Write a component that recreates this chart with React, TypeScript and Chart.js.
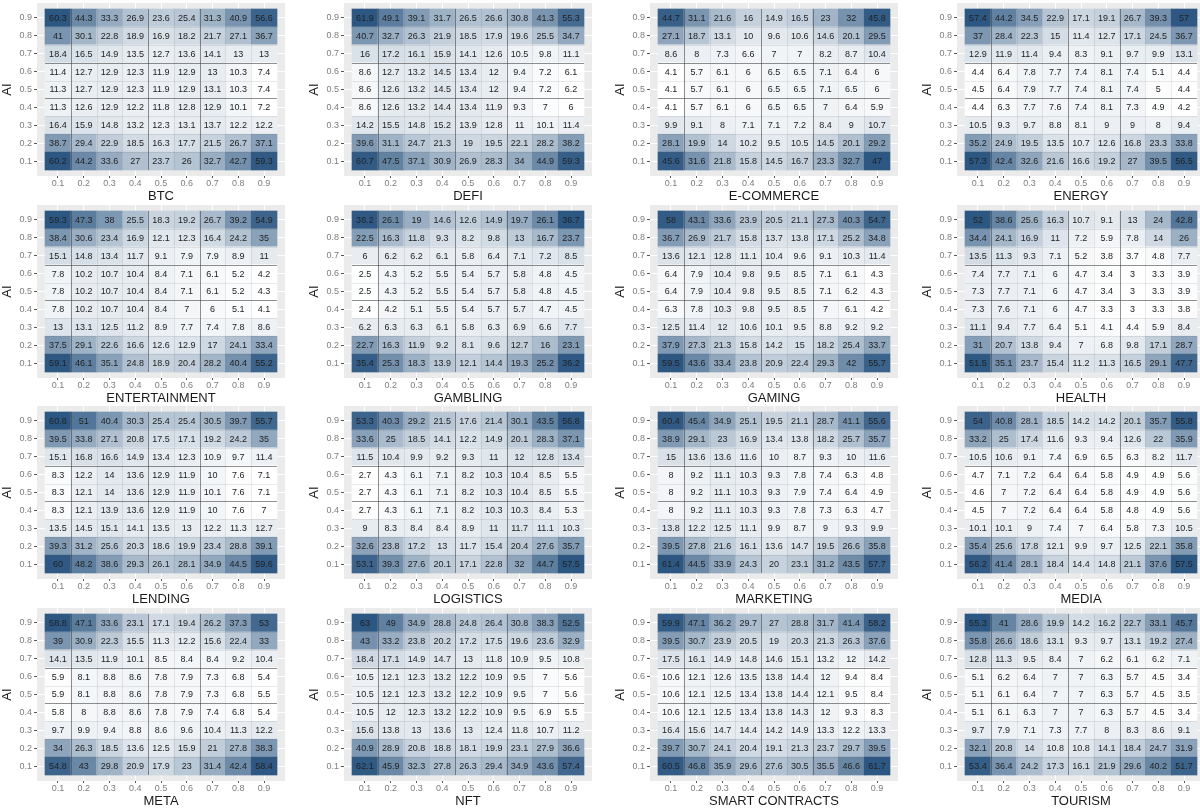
import React, { useEffect, useRef } from "react";
import { Chart, registerables } from "chart.js";

Chart.register(...registerables);
Chart.defaults.font.family = "'Liberation Sans', Arial, sans-serif";

// Axis levels (both axes) and their tick labels
const levels = [0.1, 0.2, 0.3, 0.4, 0.5, 0.6, 0.7, 0.8, 0.9];
const tickLabels = ["0.1", "0.2", "0.3", "0.4", "0.5", "0.6", "0.7", "0.8", "0.9"];
const yAxisTitle = "AI";

const panelTitles = [
  "BTC", "DEFI", "E-COMMERCE", "ENERGY",
  "ENTERTAINMENT", "GAMBLING", "GAMING", "HEALTH",
  "LENDING", "LOGISTICS", "MARKETING", "MEDIA",
  "META", "NFT", "SMART CONTRACTS", "TOURISM",
];

// Each array: rows from AI = 0.9 (top) to AI = 0.1 (bottom); columns x = 0.1 .. 0.9
const btc = [
  [60.3, 44.3, 33.3, 26.9, 23.6, 25.4, 31.3, 40.9, 56.6],
  [41, 30.1, 22.8, 18.9, 16.9, 18.2, 21.7, 27.1, 36.7],
  [18.4, 16.5, 14.9, 13.5, 12.7, 13.6, 14.1, 13, 13],
  [11.4, 12.7, 12.9, 12.3, 11.9, 12.9, 13, 10.3, 7.4],
  [11.3, 12.7, 12.9, 12.3, 11.9, 12.9, 13.1, 10.3, 7.4],
  [11.3, 12.6, 12.9, 12.2, 11.8, 12.8, 12.9, 10.1, 7.2],
  [16.4, 15.9, 14.8, 13.2, 12.3, 13.1, 13.7, 12.2, 12.2],
  [38.7, 29.4, 22.9, 18.5, 16.3, 17.7, 21.5, 26.7, 37.1],
  [60.2, 44.2, 33.6, 27, 23.7, 26, 32.7, 42.7, 59.3],
];
const defi = [
  [61.9, 49.1, 39.1, 31.7, 26.5, 26.6, 30.8, 41.3, 55.3],
  [40.7, 32.7, 26.3, 21.9, 18.5, 17.9, 19.6, 25.5, 34.7],
  [16, 17.2, 16.1, 15.9, 14.1, 12.6, 10.5, 9.8, 11.1],
  [8.6, 12.7, 13.2, 14.5, 13.4, 12, 9.4, 7.2, 6.1],
  [8.6, 12.6, 13.2, 14.5, 13.4, 12, 9.4, 7.2, 6.2],
  [8.6, 12.6, 13.2, 14.4, 13.4, 11.9, 9.3, 7, 6],
  [14.2, 15.5, 14.8, 15.2, 13.9, 12.8, 11, 10.1, 11.4],
  [39.6, 31.1, 24.7, 21.3, 19, 19.5, 22.1, 28.2, 38.2],
  [60.7, 47.5, 37.1, 30.9, 26.9, 28.3, 34, 44.9, 59.3],
];
const ecommerce = [
  [44.7, 31.1, 21.6, 16, 14.9, 16.5, 23, 32, 45.8],
  [27.1, 18.7, 13.1, 10, 9.6, 10.6, 14.6, 20.1, 29.5],
  [8.6, 8, 7.3, 6.6, 7, 7, 8.2, 8.7, 10.4],
  [4.1, 5.7, 6.1, 6, 6.5, 6.5, 7.1, 6.4, 6],
  [4.1, 5.7, 6.1, 6, 6.5, 6.5, 7.1, 6.5, 6],
  [4.1, 5.7, 6.1, 6, 6.5, 6.5, 7, 6.4, 5.9],
  [9.9, 9.1, 8, 7.1, 7.1, 7.2, 8.4, 9, 10.7],
  [28.1, 19.9, 14, 10.2, 9.5, 10.5, 14.5, 20.1, 29.2],
  [45.6, 31.6, 21.8, 15.8, 14.5, 16.7, 23.3, 32.7, 47],
];
const energy = [
  [57.4, 44.2, 34.5, 22.9, 17.1, 19.1, 26.7, 39.3, 57],
  [37, 28.4, 22.3, 15, 11.4, 12.7, 17.1, 24.5, 36.7],
  [12.9, 11.9, 11.4, 9.4, 8.3, 9.1, 9.7, 9.9, 13.1],
  [4.4, 6.4, 7.8, 7.7, 7.4, 8.1, 7.4, 5.1, 4.4],
  [4.5, 6.4, 7.9, 7.7, 7.4, 8.1, 7.4, 5, 4.4],
  [4.4, 6.3, 7.7, 7.6, 7.4, 8.1, 7.3, 4.9, 4.2],
  [10.5, 9.3, 9.7, 8.8, 8.1, 9, 9, 8, 9.4],
  [35.2, 24.9, 19.5, 13.5, 10.7, 12.6, 16.8, 23.3, 33.8],
  [57.3, 42.4, 32.6, 21.6, 16.6, 19.2, 27, 39.5, 56.5],
];
const entertainment = [
  [59.3, 47.3, 38, 25.5, 18.3, 19.2, 26.7, 39.2, 54.9],
  [38.4, 30.6, 23.4, 16.9, 12.1, 12.3, 16.4, 24.2, 35],
  [15.1, 14.8, 13.4, 11.7, 9.1, 7.9, 7.9, 8.9, 11],
  [7.8, 10.2, 10.7, 10.4, 8.4, 7.1, 6.1, 5.2, 4.2],
  [7.8, 10.2, 10.7, 10.4, 8.4, 7.1, 6.1, 5.2, 4.3],
  [7.8, 10.2, 10.7, 10.4, 8.4, 7, 6, 5.1, 4.1],
  [13, 13.1, 12.5, 11.2, 8.9, 7.7, 7.4, 7.8, 8.6],
  [37.5, 29.1, 22.6, 16.6, 12.6, 12.9, 17, 24.1, 33.4],
  [59.1, 46.1, 35.1, 24.8, 18.9, 20.4, 28.2, 40.4, 55.2],
];
const gambling = [
  [36.2, 26.1, 19, 14.6, 12.6, 14.9, 19.7, 26.1, 36.7],
  [22.5, 16.3, 11.8, 9.3, 8.2, 9.8, 13, 16.7, 23.7],
  [6, 6.2, 6.2, 6.1, 5.8, 6.4, 7.1, 7.2, 8.5],
  [2.5, 4.3, 5.2, 5.5, 5.4, 5.7, 5.8, 4.8, 4.5],
  [2.5, 4.3, 5.2, 5.5, 5.4, 5.7, 5.8, 4.8, 4.5],
  [2.4, 4.2, 5.1, 5.5, 5.4, 5.7, 5.7, 4.7, 4.5],
  [6.2, 6.3, 6.3, 6.1, 5.8, 6.3, 6.9, 6.6, 7.7],
  [22.7, 16.3, 11.9, 9.2, 8.1, 9.6, 12.7, 16, 23.1],
  [35.4, 25.3, 18.3, 13.9, 12.1, 14.4, 19.3, 25.2, 36.2],
];
const gaming = [
  [58, 43.1, 33.6, 23.9, 20.5, 21.1, 27.3, 40.3, 54.7],
  [36.7, 26.9, 21.7, 15.8, 13.7, 13.8, 17.1, 25.2, 34.8],
  [13.6, 12.1, 12.8, 11.1, 10.4, 9.6, 9.1, 10.3, 11.4],
  [6.4, 7.9, 10.4, 9.8, 9.5, 8.5, 7.1, 6.1, 4.3],
  [6.4, 7.9, 10.4, 9.8, 9.5, 8.5, 7.1, 6.2, 4.3],
  [6.3, 7.8, 10.3, 9.8, 9.5, 8.5, 7, 6.1, 4.2],
  [12.5, 11.4, 12, 10.6, 10.1, 9.5, 8.8, 9.2, 9.2],
  [37.9, 27.3, 21.3, 15.8, 14.2, 15, 18.2, 25.4, 33.7],
  [59.5, 43.6, 33.4, 23.8, 20.9, 22.4, 29.3, 42, 55.7],
];
const health = [
  [52, 38.6, 25.6, 16.3, 10.7, 9.1, 13, 24, 42.8],
  [34.4, 24.1, 16.9, 11, 7.2, 5.9, 7.8, 14, 26],
  [13.5, 11.3, 9.3, 7.1, 5.2, 3.8, 3.7, 4.8, 7.7],
  [7.4, 7.7, 7.1, 6, 4.7, 3.4, 3, 3.3, 3.9],
  [7.3, 7.7, 7.1, 6, 4.7, 3.4, 3, 3.3, 3.9],
  [7.3, 7.6, 7.1, 6, 4.7, 3.3, 3, 3.3, 3.8],
  [11.1, 9.4, 7.7, 6.4, 5.1, 4.1, 4.4, 5.9, 8.4],
  [31, 20.7, 13.8, 9.4, 7, 6.8, 9.8, 17.1, 28.7],
  [51.5, 35.1, 23.7, 15.4, 11.2, 11.3, 16.5, 29.1, 47.7],
];
const lending = [
  [60.8, 51, 40.4, 30.3, 25.4, 25.4, 30.5, 39.7, 55.7],
  [39.5, 33.8, 27.1, 20.8, 17.5, 17.1, 19.2, 24.2, 35],
  [15.1, 16.8, 16.6, 14.9, 13.4, 12.3, 10.9, 9.7, 11.4],
  [8.3, 12.2, 14, 13.6, 12.9, 11.9, 10, 7.6, 7.1],
  [8.3, 12.1, 14, 13.6, 12.9, 11.9, 10.1, 7.6, 7.1],
  [8.3, 12.1, 13.9, 13.6, 12.9, 11.9, 10, 7.6, 7],
  [13.5, 14.5, 15.1, 14.1, 13.5, 13, 12.2, 11.3, 12.7],
  [39.3, 31.2, 25.6, 20.3, 18.6, 19.9, 23.4, 28.8, 39.1],
  [60, 48.2, 38.6, 29.3, 26.1, 28.1, 34.9, 44.5, 59.6],
];
const logistics = [
  [53.3, 40.3, 29.2, 21.5, 17.6, 21.4, 30.1, 43.5, 56.8],
  [33.6, 25, 18.5, 14.1, 12.2, 14.9, 20.1, 28.3, 37.1],
  [11.5, 10.4, 9.9, 9.2, 9.3, 11, 12, 12.8, 13.4],
  [2.7, 4.3, 6.1, 7.1, 8.2, 10.3, 10.4, 8.5, 5.5],
  [2.7, 4.3, 6.1, 7.1, 8.2, 10.3, 10.4, 8.5, 5.5],
  [2.7, 4.3, 6.1, 7.1, 8.2, 10.3, 10.3, 8.4, 5.3],
  [9, 8.3, 8.4, 8.4, 8.9, 11, 11.7, 11.1, 10.3],
  [32.6, 23.8, 17.2, 13, 11.7, 15.4, 20.4, 27.6, 35.7],
  [53.1, 39.3, 27.6, 20.1, 17.1, 22.8, 32, 44.7, 57.5],
];
const marketing = [
  [60.4, 45.4, 34.9, 25.1, 19.5, 21.1, 28.7, 41.1, 55.6],
  [38.9, 29.1, 23, 16.9, 13.4, 13.8, 18.2, 25.7, 35.7],
  [15, 13.6, 13.6, 11.6, 10, 8.7, 9.3, 10, 11.6],
  [8, 9.2, 11.1, 10.3, 9.3, 7.8, 7.4, 6.3, 4.8],
  [8, 9.2, 11.1, 10.3, 9.3, 7.9, 7.4, 6.4, 4.9],
  [8, 9.2, 11.1, 10.3, 9.3, 7.8, 7.3, 6.3, 4.7],
  [13.8, 12.2, 12.5, 11.1, 9.9, 8.7, 9, 9.3, 9.9],
  [39.5, 27.8, 21.6, 16.1, 13.6, 14.7, 19.5, 26.6, 35.8],
  [61.4, 44.5, 33.9, 24.3, 20, 23.1, 31.2, 43.5, 57.7],
];
const media = [
  [54, 40.8, 28.1, 18.5, 14.2, 14.2, 20.1, 35.7, 55.8],
  [33.2, 25, 17.4, 11.6, 9.3, 9.4, 12.6, 22, 35.9],
  [10.5, 10.6, 9.1, 7.4, 6.9, 6.5, 6.3, 8.2, 11.7],
  [4.7, 7.1, 7.2, 6.4, 6.4, 5.8, 4.9, 4.9, 5.6],
  [4.6, 7, 7.2, 6.4, 6.4, 5.8, 4.9, 4.9, 5.6],
  [4.5, 7, 7.2, 6.4, 6.4, 5.8, 4.8, 4.9, 5.6],
  [10.1, 10.1, 9, 7.4, 7, 6.4, 5.8, 7.3, 10.5],
  [35.4, 25.6, 17.8, 12.1, 9.9, 9.7, 12.5, 22.1, 35.8],
  [56.2, 41.4, 28.1, 18.4, 14.4, 14.8, 21.1, 37.6, 57.5],
];
const meta = [
  [58.8, 47.1, 33.6, 23.1, 17.1, 19.4, 26.2, 37.3, 53],
  [39, 30.9, 22.3, 15.5, 11.3, 12.2, 15.6, 22.4, 33],
  [14.1, 13.5, 11.9, 10.1, 8.5, 8.4, 8.4, 9.2, 10.4],
  [5.9, 8.1, 8.8, 8.6, 7.8, 7.9, 7.3, 6.8, 5.4],
  [5.9, 8.1, 8.8, 8.6, 7.8, 7.9, 7.3, 6.8, 5.5],
  [5.8, 8, 8.8, 8.6, 7.8, 7.9, 7.4, 6.8, 5.4],
  [9.7, 9.9, 9.4, 8.8, 8.6, 9.6, 10.4, 11.3, 12.2],
  [34, 26.3, 18.5, 13.6, 12.5, 15.9, 21, 27.8, 38.3],
  [54.8, 43, 29.8, 20.9, 17.9, 23, 31.4, 42.4, 58.4],
];
const nft = [
  [63, 49, 34.9, 28.8, 24.8, 26.4, 30.8, 38.3, 52.5],
  [43, 33.2, 23.8, 20.2, 17.2, 17.5, 19.6, 23.6, 32.9],
  [18.4, 17.1, 14.9, 14.7, 13, 11.8, 10.9, 9.5, 10.8],
  [10.5, 12.1, 12.3, 13.2, 12.2, 10.9, 9.5, 7, 5.6],
  [10.5, 12.1, 12.3, 13.2, 12.2, 10.9, 9.5, 7, 5.6],
  [10.5, 12, 12.3, 13.2, 12.2, 10.9, 9.5, 6.9, 5.5],
  [15.6, 13.8, 13, 13.6, 13, 12.4, 11.8, 10.7, 11.2],
  [40.9, 28.9, 20.8, 18.8, 18.1, 19.9, 23.1, 27.9, 36.6],
  [62.1, 45.9, 32.3, 27.8, 26.3, 29.4, 34.9, 43.6, 57.4],
];
const smartContracts = [
  [59.9, 47.1, 36.2, 29.7, 27, 28.8, 31.7, 41.4, 58.2],
  [39.5, 30.7, 23.9, 20.5, 19, 20.3, 21.3, 26.3, 37.6],
  [17.5, 16.1, 14.9, 14.8, 14.6, 15.1, 13.2, 12, 14.2],
  [10.6, 12.1, 12.6, 13.5, 13.8, 14.4, 12, 9.4, 8.4],
  [10.6, 12.1, 12.5, 13.4, 13.8, 14.4, 12.1, 9.5, 8.4],
  [10.6, 12.1, 12.5, 13.4, 13.8, 14.3, 12, 9.3, 8.3],
  [16.4, 15.6, 14.7, 14.4, 14.2, 14.9, 13.3, 12.2, 13.3],
  [39.7, 30.7, 24.1, 20.4, 19.1, 21.3, 23.7, 29.7, 39.5],
  [60.5, 46.8, 35.9, 29.6, 27.6, 30.5, 35.5, 46.6, 61.7],
];
const tourism = [
  [55.3, 41, 28.6, 19.9, 14.2, 16.2, 22.7, 33.1, 45.7],
  [35.8, 26.6, 18.6, 13.1, 9.3, 9.7, 13.1, 19.2, 27.4],
  [12.8, 11.3, 9.5, 8.4, 7, 6.2, 6.1, 6.2, 7.1],
  [5.1, 6.2, 6.4, 7, 7, 6.3, 5.7, 4.5, 3.4],
  [5.1, 6.1, 6.4, 7, 7, 6.3, 5.7, 4.5, 3.5],
  [5.1, 6.1, 6.3, 7, 7, 6.3, 5.7, 4.5, 3.4],
  [9.7, 7.9, 7.1, 7.3, 7.7, 8, 8.3, 8.6, 9.1],
  [32.1, 20.8, 14, 10.8, 10.8, 14.1, 18.4, 24.7, 31.9],
  [53.4, 36.4, 24.2, 17.3, 16.1, 21.9, 29.6, 40.2, 51.7],
];

const panelValues = [
  btc, defi, ecommerce, energy,
  entertainment, gambling, gaming, health,
  lending, logistics, marketing, media,
  meta, nft, smartContracts, tourism,
];

// Reference lines drawn over the tiles (axis values)
const vLines = [0.15, 0.45, 0.65];
const hLines = [0.45, 0.65];

const HALF = 0.05;
const LOW_RGB = [255, 255, 255];
const HIGH_RGB = [44, 87, 130];
const TICK_COLOR = "#7d7d7d";
const TITLE_COLOR = "#1a1a1a";

function cellColor(v: number, min: number, max: number) {
  const t = Math.max(0, Math.min(1, (v - min) / (max - min)));
  const c = LOW_RGB.map((l, i) => Math.round(l + (HIGH_RGB[i] - l) * t));
  return `rgb(${c[0]},${c[1]},${c[2]})`;
}

const panelBgPlugin = {
  id: "panelBg",
  beforeDraw(chart: any) {
    const { ctx, chartArea: a } = chart;
    ctx.save();
    ctx.fillStyle = "#EBEBEB";
    ctx.fillRect(a.left, a.top, a.right - a.left, a.bottom - a.top);
    ctx.restore();
  },
};

const overlayPlugin = {
  id: "tileOverlay",
  afterDatasetsDraw(chart: any) {
    const { ctx } = chart;
    const xs = chart.scales.x;
    const ys = chart.scales.y;
    const x0 = xs.getPixelForValue(levels[0] - HALF);
    const x1 = xs.getPixelForValue(levels[levels.length - 1] + HALF);
    const y0 = ys.getPixelForValue(levels[levels.length - 1] + HALF);
    const y1 = ys.getPixelForValue(levels[0] - HALF);
    ctx.save();
    // faint tile borders
    ctx.strokeStyle = "rgba(90,90,90,0.13)";
    ctx.lineWidth = 1;
    for (let i = 0; i < levels.length - 1; i++) {
      const b = levels[i] + HALF;
      const px = Math.round(xs.getPixelForValue(b)) + 0.5;
      ctx.beginPath(); ctx.moveTo(px, y0); ctx.lineTo(px, y1); ctx.stroke();
      const py = Math.round(ys.getPixelForValue(b)) + 0.5;
      ctx.beginPath(); ctx.moveTo(x0, py); ctx.lineTo(x1, py); ctx.stroke();
    }
    // darker reference lines
    ctx.strokeStyle = "rgba(70,70,70,0.55)";
    vLines.forEach((v) => {
      const px = Math.round(xs.getPixelForValue(v)) + 0.5;
      ctx.beginPath(); ctx.moveTo(px, y0); ctx.lineTo(px, y1); ctx.stroke();
    });
    hLines.forEach((v) => {
      const py = Math.round(ys.getPixelForValue(v)) + 0.5;
      ctx.beginPath(); ctx.moveTo(x0, py); ctx.lineTo(x1, py); ctx.stroke();
    });
    // cell value labels
    ctx.fillStyle = "#222";
    ctx.font = "9px 'Liberation Sans', Arial, sans-serif";
    ctx.textAlign = "center";
    ctx.textBaseline = "middle";
    const metaSet = chart.getDatasetMeta(0);
    const data = chart.data.datasets[0].data as any[];
    metaSet.data.forEach((el: any, i: number) => {
      const c = el.getCenterPoint();
      ctx.fillText(String(data[i].v), c.x, c.y + 0.5);
    });
    ctx.restore();
  },
};

const CANVAS_W = 300;
const CANVAS_H = 206;
const COL_STEP = 306.7;
const ROW_STEP = 201.5;

function Panel({ index }: { index: number }) {
  const ref = useRef<HTMLCanvasElement>(null);
  useEffect(() => {
    const values = panelValues[index];
    const flat = values.flat();
    const min = Math.min(...flat);
    const max = Math.max(...flat);
    const cells: any[] = [];
    values.forEach((row, ri) => {
      const ai = levels[levels.length - 1 - ri];
      row.forEach((v, ci) => {
        cells.push({ x: levels[ci], y: [ai - HALF, ai + HALF], v });
      });
    });
    const tickFont = { size: 9, family: "'Liberation Sans', Arial, sans-serif" };
    const titleFont = { size: 13, family: "'Liberation Sans', Arial, sans-serif" };
    const setTicks = (s: any) => {
      s.ticks = levels.map((v) => ({ value: v }));
    };
    const chart = new Chart(ref.current as HTMLCanvasElement, {
      type: "bar",
      data: {
        datasets: [
          {
            data: cells,
            backgroundColor: (ctx: any) =>
              ctx.raw ? cellColor(ctx.raw.v, min, max) : "#fff",
            borderWidth: 0,
            barPercentage: 1,
            categoryPercentage: 1,
          } as any,
        ],
      },
      options: {
        responsive: false,
        animation: false,
        layout: { padding: { top: 3, left: 0, right: 15, bottom: 2 } },
        plugins: {
          legend: { display: false },
          tooltip: { enabled: false },
        },
        scales: {
          x: {
            type: "linear",
            offset: false,
            min: 0.019,
            max: 0.981,
            afterBuildTicks: setTicks,
            afterFit: (s: any) => {
              s.height = 28;
              s.paddingLeft = 0;
              s.paddingRight = 0;
            },
            ticks: {
              callback: (_v: any, i: number) => tickLabels[i],
              font: tickFont,
              color: TICK_COLOR,
              padding: 0,
              maxRotation: 0,
              autoSkip: false,
            },
            grid: {
              offset: false,
              color: "#ffffff",
              lineWidth: 1,
              drawTicks: true,
              tickLength: 2,
              tickColor: "#555",
            },
            border: { display: false },
            title: {
              display: true,
              text: panelTitles[index],
              font: titleFont,
              color: TITLE_COLOR,
              padding: 0,
            },
          },
          y: {
            type: "linear",
            offset: false,
            min: 0.0165,
            max: 0.9835,
            afterBuildTicks: setTicks,
            afterFit: (s: any) => {
              s.width = 37;
              s.paddingTop = 0;
              s.paddingBottom = 0;
            },
            ticks: {
              callback: (_v: any, i: number) => tickLabels[i],
              font: tickFont,
              color: TICK_COLOR,
              padding: 2,
              autoSkip: false,
            },
            grid: {
              offset: false,
              color: "#ffffff",
              lineWidth: 1,
              drawTicks: true,
              tickLength: 3,
              tickColor: "#555",
            },
            border: { display: false },
            title: {
              display: true,
              text: yAxisTitle,
              font: titleFont,
              color: TITLE_COLOR,
              padding: 0,
            },
          },
        },
      } as any,
      plugins: [panelBgPlugin, overlayPlugin],
    });
    return () => chart.destroy();
  }, [index]);

  const col = index % 4;
  const row = Math.floor(index / 4);
  return (
    <canvas
      ref={ref}
      width={CANVAS_W}
      height={CANVAS_H}
      style={{
        position: "absolute",
        left: Math.round(col * COL_STEP),
        top: Math.round(row * ROW_STEP),
        width: CANVAS_W,
        height: CANVAS_H,
      }}
    />
  );
}

export default function App() {
  return (
    <div
      style={{
        position: "absolute",
        left: 0,
        top: 0,
        width: 1200,
        height: 811,
        overflow: "hidden",
        background: "#ffffff",
      }}
    >
      {panelTitles.map((_t, i) => (
        <Panel key={i} index={i} />
      ))}
    </div>
  );
}
